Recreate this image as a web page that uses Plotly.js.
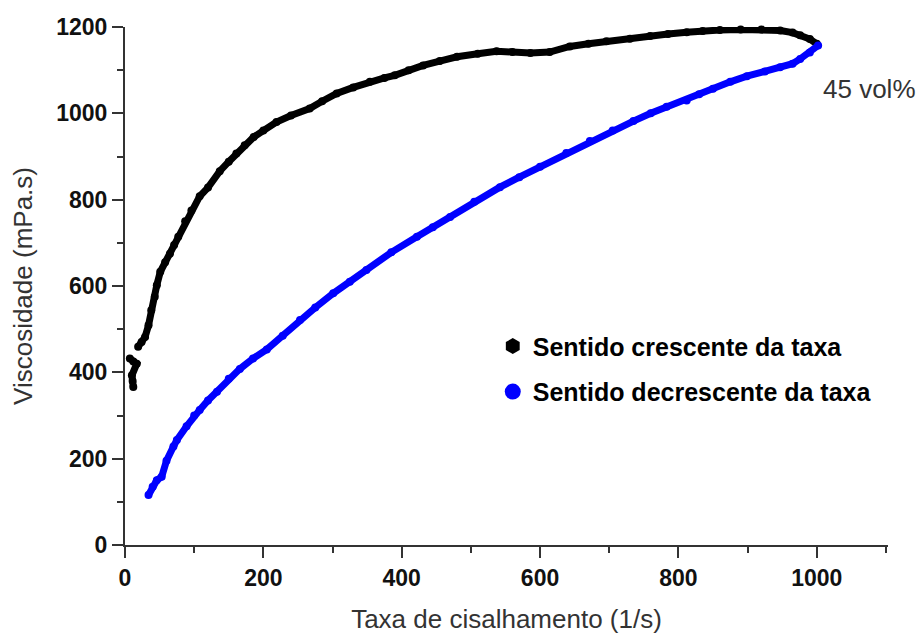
<!DOCTYPE html>
<html>
<head>
<meta charset="utf-8">
<script src="https://cdn.plot.ly/plotly-3.0.1.min.js"></script>
<style>html,body{margin:0;padding:0;background:#fff;}#chart{width:920px;height:636px;}</style>
</head>
<body>
<div id="chart"></div>
<script>
// Sentido crescente da taxa (increasing shear rate) — black
const crescX = [7, 12, 17, 10, 11, 12, null,
  19, 24, 29, 34, 38, 43, 46, 51, 58, 65, 71, 77, 87, 96, 108, 120, 137, 150, 161, 173, 186, 200,
  219, 240, 267, 285, 306, 330, 354, 375, 390, 410, 431, 455, 480, 510, 537, 560, 586, 614, 643,
  670, 696, 730, 759, 785, 812, 835, 860, 890, 920, 947, 965, 976, 990, 1000];
const crescY = [432, 425, 420, 393, 380, 366, null,
  459, 470, 482, 509, 544, 575, 602, 633, 655, 675, 695, 714, 750, 775, 808, 828, 866, 888, 907, 926, 945, 960,
  980, 995, 1011, 1028, 1046, 1060, 1073, 1082, 1088, 1100, 1111, 1121, 1131, 1138, 1144, 1142, 1140, 1142, 1155,
  1161, 1167, 1173, 1179, 1184, 1188, 1191, 1193, 1194, 1194, 1192, 1187, 1181, 1172, 1161];

// Sentido decrescente da taxa (decreasing shear rate) — blue
const decrX = [34, 40, 46, 53, 60, 70, 75, 89, 100, 108, 120, 133, 150, 166, 185, 205, 228, 253, 275, 301,
  325, 349, 385, 422, 445, 470, 505, 542, 570, 600, 638, 672, 705, 735, 760, 783, 812, 830, 850, 875,
  899, 925, 947, 965, 976, 990, 1002];
const decrY = [116, 135, 150, 158, 195, 228, 243, 275, 300, 313, 335, 355, 385, 408, 432, 453, 485, 521, 550, 583,
  610, 637, 678, 714, 736, 760, 795, 829, 852, 876, 908, 936, 960, 982, 1000, 1015, 1030, 1044, 1057, 1073,
  1086, 1097, 1107, 1115, 1126, 1141, 1157];

const seriesNames = ["Sentido crescente da taxa", "Sentido decrescente da taxa"];
const seriesColors = ["#000000", "#0000ff"];
const xTicks = [0, 200, 400, 600, 800, 1000];
const yTicks = [0, 200, 400, 600, 800, 1000, 1200];
const noteText = "45 vol%";

const FONT = "'Liberation Sans', Arial, Helvetica, sans-serif";

const traces = [
  {x: crescX, y: crescY, type: 'scatter', mode: 'lines+markers', showlegend: false, cliponaxis: false,
   connectgaps: false, line: {color: seriesColors[0], width: 7}, marker: {color: seriesColors[0], size: 8}},
  {x: decrX, y: decrY, type: 'scatter', mode: 'lines+markers', showlegend: false, cliponaxis: false,
   line: {color: seriesColors[1], width: 7}, marker: {color: seriesColors[1], size: 8}},
  {x: [null], y: [null], type: 'scatter', mode: 'markers', name: seriesNames[0], legendgroup: 'a',
   marker: {color: seriesColors[0], size: 16, symbol: 'hexagon'}},
  {x: [null], y: [null], type: 'scatter', mode: 'markers', name: seriesNames[1], legendgroup: 'b',
   marker: {color: seriesColors[1], size: 16, symbol: 'circle'}}
];

const axisCommon = {
  showgrid: false, zeroline: false, showline: true, linecolor: '#333', linewidth: 2,
  ticks: 'outside', ticklen: 11, tickwidth: 2, tickcolor: '#333',
  tickfont: {family: FONT, size: 23, color: '#111', weight: 'bold'},
  minor: {ticks: 'outside', ticklen: 6, tickwidth: 2, tickcolor: '#333'}
};

const layout = {
  width: 920, height: 636,
  margin: {l: 125, r: 32, t: 27, b: 91, autoexpand: false},
  paper_bgcolor: '#fff', plot_bgcolor: '#fff',
  font: {family: FONT},
  xaxis: Object.assign({}, axisCommon, {
    range: [0, 1103], tickvals: xTicks, ticktext: xTicks.map(String),
    minor: Object.assign({}, axisCommon.minor, {dtick: 100, tick0: 0}),
    title: {text: 'Taxa de cisalhamento (1/s)', font: {family: FONT, size: 26, color: '#333'}, standoff: 20}
  }),
  yaxis: Object.assign({}, axisCommon, {
    range: [0, 1200], tickvals: yTicks, ticktext: yTicks.map(String),
    minor: Object.assign({}, axisCommon.minor, {dtick: 100, tick0: 0}),
    title: {text: 'Viscosidade (mPa.s)', font: {family: FONT, size: 26, color: '#333'}, standoff: 16}
  }),
  legend: {x: 0.482, y: 0.428, xanchor: 'left', yanchor: 'top', bgcolor: 'rgba(0,0,0,0)',
    traceorder: 'grouped', tracegroupgap: 10,
    font: {family: FONT, size: 25, color: '#000', weight: 'bold'}},
  annotations: [{x: 1076, y: 1056, xref: 'x', yref: 'y', text: noteText, showarrow: false,
    font: {family: FONT, size: 26, color: '#333'}}]
};

Plotly.newPlot('chart', traces, layout, {displayModeBar: false, staticPlot: true});
</script>
</body>
</html>
